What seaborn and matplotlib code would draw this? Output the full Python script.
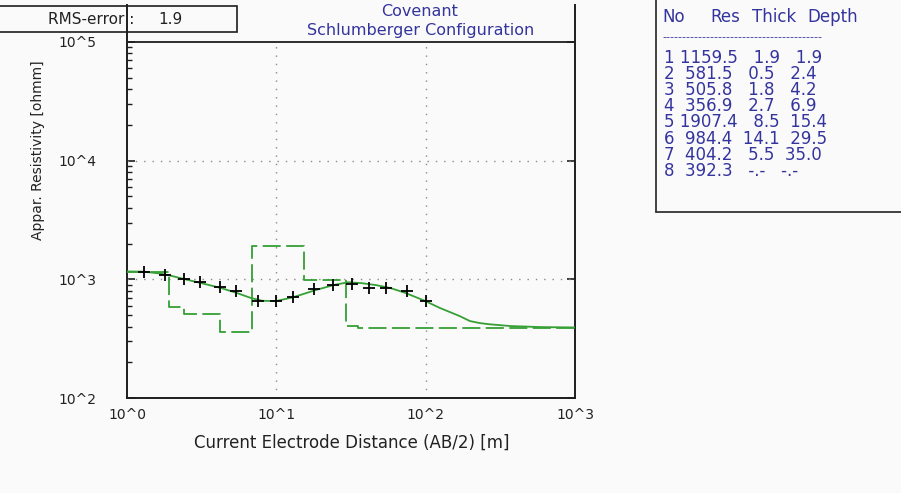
import matplotlib
matplotlib.use("Agg")
import matplotlib.pyplot as plt
import seaborn as sns
from matplotlib.patches import Rectangle
from matplotlib.lines import Line2D
from matplotlib.ticker import FixedLocator, NullFormatter

# ---------------- data ----------------
ab2_obs = [1.3, 1.8, 2.4, 3.1, 4.2, 5.4, 7.5, 10, 13, 18, 24, 32, 42, 54, 75, 100]
rho_obs = [1160, 1090, 1005, 955, 870, 790, 660, 660, 715, 825, 895, 905, 850, 850, 795, 660]

curve_ab2 = [1.0, 1.3, 1.66, 2.0, 2.41, 3.08, 4.26, 5.45, 6.67, 8.0, 9.9, 12.9, 18.4,
             24.2, 30.3, 36.9, 46.3, 58, 72.8, 98.5, 124, 169, 198, 230, 268, 369, 580, 1000]
curve_rho = [1165, 1160, 1120, 1067, 1006, 935, 845, 767, 700, 660, 655, 705, 813,
             895, 945, 930, 895, 845, 770, 660, 575, 490, 445, 428, 418, 404, 396, 393]

layer_no = [1, 2, 3, 4, 5, 6, 7, 8]
layer_res = [1159.5, 581.5, 505.8, 356.9, 1907.4, 984.4, 404.2, 392.3]
layer_thick = [1.9, 0.5, 1.8, 2.7, 8.5, 14.1, 5.5, None]
layer_depth = [1.9, 2.4, 4.2, 6.9, 15.4, 29.5, 35.0, None]

x_ticks = [1, 10, 100, 1000]
x_tick_labels = ["10^0", "10^1", "10^2", "10^3"]
y_ticks = [100, 1000, 10000, 100000]
y_tick_labels = ["10^2", "10^3", "10^4", "10^5"]

rms_error = 1.9
title_lines = ["Covenant", "Schlumberger Configuration"]
x_label = "Current Electrode Distance (AB/2) [m]"
y_label = "Appar. Resistivity [ohmm]"
table_header = ["No", "Res", "Thick", "Depth"]

# ---------------- style ----------------
sns.set_style("white")
plt.rcParams["font.family"] = ["DejaVu Sans"]

W, H = 901, 493
fig = plt.figure(figsize=(W / 100, H / 100), dpi=100)
bg = "#fafafa"
fig.patch.set_facecolor(bg)

def fx(px):
    return px / W

def fy(py):
    return 1 - py / H

green = "#35a035"
blue = "#34349e"
dark = "#1e1e1e"

ax = fig.add_axes([fx(127), fy(398), fx(575) - fx(127), fy(5) - fy(398)])
ax.set_facecolor(bg)
ax.set_xscale("log")
ax.set_yscale("log")
ax.set_xlim(1, 1000)
ax.set_ylim(100, 2.05e5)

# gridlines (dotted) and top line at 10^5
ax.vlines([10, 100], 100, 1e5, colors="#8a8a8a", linestyles=(0, (1, 5)), lw=1.0, zorder=1)
ax.hlines([1e3, 1e4], 1, 1000, colors="#8a8a8a", linestyles=(0, (1, 5)), lw=1.0, zorder=1)
ax.hlines([1e5], 1, 1000, colors=dark, lw=1.3, zorder=3)

# layered model (dashed step line)
step_x = [1.0] + [d for d in layer_depth if d is not None] + [1000]
step_y = layer_res + [layer_res[-1]]
sns.lineplot(x=step_x, y=step_y, ax=ax, estimator=None, sort=False,
             drawstyle="steps-post", color=green, lw=1.3, linestyle=(0, (10, 3)), zorder=3)

# computed model curve
sns.lineplot(x=curve_ab2, y=curve_rho, ax=ax, estimator=None, sort=False,
             color=green, lw=1.3, zorder=4)

# observed data
sns.scatterplot(x=ab2_obs, y=rho_obs, ax=ax, marker="+", s=75, color="black",
                linewidth=1.3, zorder=5)

# spines
ax.spines["top"].set_visible(False)
for s in ["left", "right", "bottom"]:
    ax.spines[s].set_visible(True)
    ax.spines[s].set_color(dark)
    ax.spines[s].set_linewidth(1.4)

# ticks
ax.xaxis.set_major_locator(FixedLocator(x_ticks))
ax.set_xticklabels(x_tick_labels)
x_minor = [m * 10 ** e for e in range(0, 3) for m in range(2, 10)]
ax.xaxis.set_minor_locator(FixedLocator(x_minor))
ax.xaxis.set_minor_formatter(NullFormatter())

ax.yaxis.set_major_locator(FixedLocator(y_ticks))
ax.set_yticklabels(y_tick_labels)
y_minor = [m * 10 ** e for e in range(2, 5) for m in range(2, 10)]
ax.yaxis.set_minor_locator(FixedLocator(y_minor))
ax.yaxis.set_minor_formatter(NullFormatter())

ax.tick_params(axis="x", which="major", direction="in", length=7, width=1.2,
               color=dark, labelsize=10, labelcolor="#222222", pad=7)
ax.tick_params(axis="x", which="minor", direction="in", length=3.5, width=1.0, color=dark)
ax.tick_params(axis="y", which="major", direction="in", length=6, width=1.2,
               color=dark, labelsize=10, labelcolor="#222222", pad=22,
               left=True, right=True)
ax.tick_params(axis="y", which="minor", direction="in", length=3.5, width=1.0,
               color=dark, left=True, right=False)
ax.set_xlabel("")
ax.set_ylabel("")

# axis labels
fig.text(fx(352), fy(443), x_label, ha="center", va="center", fontsize=12, color="#222222")
fig.text(fx(38), fy(150), y_label, ha="center", va="center", rotation=90,
         fontsize=10, color="#222222")

# title
fig.text(fx(420), fy(12), title_lines[0], ha="center", va="center", fontsize=11.5, color=blue)
fig.text(fx(421), fy(31), title_lines[1], ha="center", va="center", fontsize=11.5, color=blue)

# RMS box
fig.add_artist(Rectangle((fx(-2), fy(32)), fx(237) - fx(-2), fy(6) - fy(32),
                         transform=fig.transFigure, fill=False, ec=dark, lw=1.2))
fig.text(fx(48), fy(19), "RMS-error :", ha="left", va="center", fontsize=11, color="#222222")
fig.text(fx(158), fy(19), f"{rms_error:.1f}", ha="left", va="center", fontsize=11, color="#222222")

# table box
fig.add_artist(Line2D([fx(656), fx(656)], [1.0, fy(212)], transform=fig.transFigure,
                      color="#333333", lw=1.3))
fig.add_artist(Line2D([fx(656), 1.0], [fy(212), fy(212)], transform=fig.transFigure,
                      color="#333333", lw=1.3))

tfs = 12
for word, px in zip(table_header, [662, 710, 752, 807]):
    fig.text(fx(px), fy(17), word, ha="left", va="center", fontsize=tfs, color=blue)
fig.text(fx(662), fy(37), "-" * 40, ha="left", va="center", fontsize=8, color=blue)

def fmt(v):
    return "-.-" if v is None else f"{v:.1f}"

rows = [f"{n}{fmt(r):>7}{fmt(t):>6}{fmt(d):>6}"
        for n, r, t, d in zip(layer_no, layer_res, layer_thick, layer_depth)]
fig.text(fx(664), fy(49), "\n".join(rows), ha="left", va="top", fontsize=tfs,
         color=blue, linespacing=0.865)

fig.savefig("out.png", dpi=100, facecolor=bg)
